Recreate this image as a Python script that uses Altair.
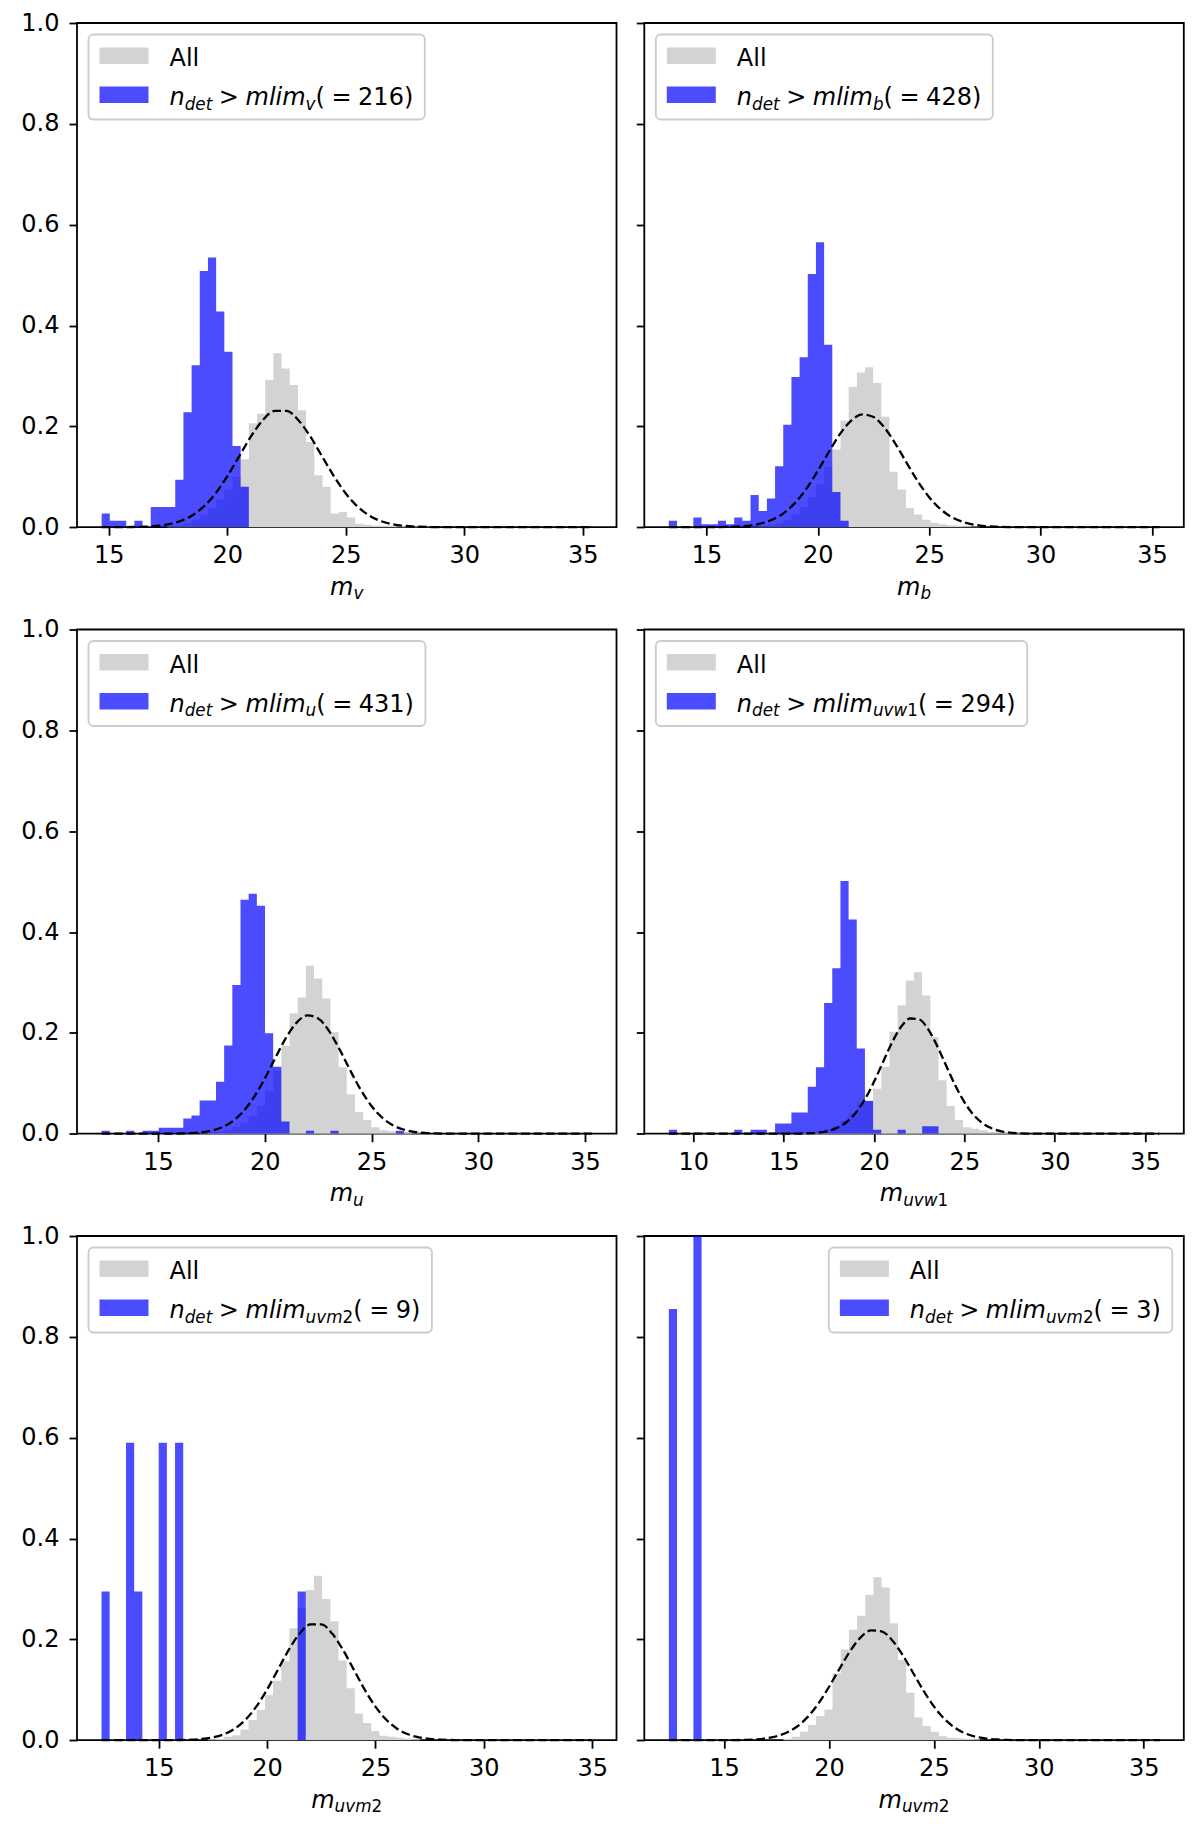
import altair as alt
import pandas as pd

# Density histograms: 60 equal bins per panel starting at
# bin_start with width bin_width. "All" lists start at bin index gray_first.
bands = ["v", "b", "u", "uvw1", "uvm2", "uvm2"]
n_sel = ["216", "428", "431", "294", "9", "3"]
bin_start = [14.70, 13.31, 12.35, 8.65, 12.36, 12.37]
bin_width = [0.345, 0.367, 0.383, 0.452, 0.377, 0.390]
x_lo = [13.66, 12.21, 11.20, 7.29, 11.23, 11.20]
x_hi = [36.42, 36.43, 36.48, 37.14, 36.12, 36.91]
x_ticks = [
    [15, 20, 25, 30, 35],
    [15, 20, 25, 30, 35],
    [15, 20, 25, 30, 35],
    [10, 15, 20, 25, 30, 35],
    [15, 20, 25, 30, 35],
    [15, 20, 25, 30, 35],
]

blue_v = [0.027, 0.013, 0.013, 0.0, 0.013, 0.0, 0.040, 0.040, 0.040, 0.094,
          0.228, 0.321, 0.508, 0.535, 0.428, 0.348, 0.161, 0.080]
blue_b = [0.013, 0.0, 0.0, 0.019, 0.006, 0.006, 0.013, 0.006, 0.019, 0.013,
          0.064, 0.032, 0.057, 0.121, 0.203, 0.298, 0.337, 0.502, 0.565, 0.362,
          0.070, 0.013]
blue_u = [0.006, 0.0, 0.0, 0.006, 0.0, 0.006, 0.006, 0.012, 0.012, 0.012,
          0.030, 0.036, 0.066, 0.066, 0.103, 0.175, 0.295, 0.464, 0.476, 0.452,
          0.199, 0.133, 0.024, 0.0, 0.0, 0.006, 0.0, 0.0, 0.006, 0.0,
          0.0, 0.0, 0.0, 0.0, 0.0, 0.0, 0.006]
blue_uvw1 = [0.008, 0.0, 0.0, 0.0, 0.0, 0.0, 0.0, 0.0, 0.008, 0.0,
             0.008, 0.008, 0.0, 0.020, 0.020, 0.042, 0.042, 0.093, 0.132, 0.259,
             0.328, 0.501, 0.425, 0.169, 0.065, 0.008, 0.0, 0.0, 0.008, 0.0,
             0.0, 0.015, 0.015]
blue_uvm2 = [0.295, 0.0, 0.0, 0.590, 0.295, 0.0, 0.0, 0.590, 0.0, 0.590,
             0.0, 0.0, 0.0, 0.0, 0.0, 0.0, 0.0, 0.0, 0.0, 0.0,
             0.0, 0.0, 0.0, 0.0, 0.295]
blue_uvm2_b = [0.855, 0.0, 0.0, 1.71]

gray_first = [8, 10, 12, 16, 13, 14]
gray_v = [0.002, 0.004, 0.008, 0.015, 0.025, 0.038, 0.055, 0.075, 0.100, 0.135,
          0.206, 0.225, 0.292, 0.345, 0.315, 0.282, 0.232, 0.169, 0.103, 0.080,
          0.027, 0.030, 0.019, 0.007, 0.005, 0.003, 0.003, 0.003, 0.002, 0.002,
          0.001, 0.001]
gray_b = [0.001, 0.002, 0.004, 0.008, 0.015, 0.025, 0.040, 0.060, 0.085, 0.120,
          0.154, 0.211, 0.278, 0.307, 0.317, 0.286, 0.219, 0.110, 0.075, 0.038,
          0.025, 0.015, 0.009, 0.006, 0.004, 0.003, 0.002, 0.001]
gray_u = [0.001, 0.002, 0.004, 0.007, 0.013, 0.022, 0.035, 0.055, 0.085, 0.125,
          0.174, 0.239, 0.270, 0.333, 0.308, 0.268, 0.201, 0.132, 0.078, 0.043,
          0.027, 0.013, 0.007, 0.005, 0.003, 0.002, 0.001]
gray_uvw1 = [0.002, 0.003, 0.005, 0.009, 0.015, 0.025, 0.040, 0.060, 0.066, 0.089,
             0.133, 0.202, 0.255, 0.304, 0.320, 0.274, 0.192, 0.106, 0.055, 0.027,
             0.013, 0.010, 0.007, 0.004, 0.003, 0.002, 0.001]
gray_uvm2 = [0.002, 0.003, 0.007, 0.010, 0.021, 0.040, 0.060, 0.089, 0.118, 0.157,
             0.222, 0.262, 0.298, 0.326, 0.280, 0.236, 0.158, 0.103, 0.053, 0.034,
             0.018, 0.009, 0.007, 0.005, 0.003, 0.002]
gray_uvm2_b = [0.003, 0.007, 0.017, 0.030, 0.048, 0.061, 0.133, 0.180, 0.219, 0.247,
               0.288, 0.323, 0.303, 0.232, 0.159, 0.094, 0.045, 0.028, 0.017, 0.008,
               0.005, 0.004, 0.003, 0.002]

# dashed normal curves, sampled on curve_x
curve_x = [15.0, 15.5, 16.0, 16.5, 17.0, 17.5, 18.0, 18.5, 19.0, 19.5,
           20.0, 20.5, 21.0, 21.5, 22.0, 22.5, 23.0, 23.5, 24.0, 24.5,
           25.0, 25.5, 26.0, 26.5, 27.0, 27.5, 28.0, 28.5, 29.0, 29.5, 30.0]
curve_v = [0.0000, 0.0001, 0.0004, 0.0010, 0.0025, 0.0056, 0.0118, 0.0229, 0.0407, 0.0668,
           0.1010, 0.1405, 0.1800, 0.2123, 0.2306, 0.2306, 0.2123, 0.1800, 0.1405, 0.1010,
           0.0668, 0.0407, 0.0229, 0.0118, 0.0056, 0.0025, 0.0010, 0.0004, 0.0001, 0.0, 0.0]
curve_b = [0.0001, 0.0002, 0.0006, 0.0016, 0.0037, 0.0079, 0.0158, 0.0290, 0.0492, 0.0771,
           0.1117, 0.1496, 0.1851, 0.2116, 0.2236, 0.2184, 0.1971, 0.1644, 0.1267, 0.0903,
           0.0594, 0.0362, 0.0203, 0.0106, 0.0051, 0.0022, 0.0009, 0.0003, 0.0001, 0.0, 0.0]
curve_u = [0.0000, 0.0001, 0.0004, 0.0010, 0.0026, 0.0060, 0.0128, 0.0250, 0.0446, 0.0730,
           0.1096, 0.1509, 0.1906, 0.2208, 0.2346, 0.2286, 0.2043, 0.1674, 0.1258, 0.0868,
           0.0549, 0.0318, 0.0169, 0.0083, 0.0037, 0.0015, 0.0006, 0.0002, 0.0001, 0.0, 0.0]
curve_uvw1 = [0.0000, 0.0001, 0.0004, 0.0010, 0.0026, 0.0059, 0.0123, 0.0237, 0.0420, 0.0685,
              0.1029, 0.1423, 0.1811, 0.2120, 0.2285, 0.2266, 0.2068, 0.1737, 0.1343, 0.0955,
              0.0626, 0.0377, 0.0209, 0.0107, 0.0050, 0.0022, 0.0009, 0.0003, 0.0001, 0.0, 0.0]
curve_uvm2 = [0.0000, 0.0001, 0.0004, 0.0010, 0.0025, 0.0056, 0.0117, 0.0228, 0.0405, 0.0665,
              0.1005, 0.1399, 0.1792, 0.2114, 0.2296, 0.2296, 0.2114, 0.1792, 0.1399, 0.1005,
              0.0665, 0.0405, 0.0228, 0.0117, 0.0056, 0.0025, 0.0010, 0.0004, 0.0001, 0.0, 0.0]
curve_uvm2_b = [0.0001, 0.0002, 0.0007, 0.0016, 0.0037, 0.0078, 0.0153, 0.0277, 0.0467, 0.0729,
                0.1055, 0.1416, 0.1762, 0.2034, 0.2177, 0.2160, 0.1988, 0.1697, 0.1343, 0.0986,
                0.0671, 0.0423, 0.0248, 0.0134, 0.0068, 0.0032, 0.0014, 0.0005, 0.0002, 0.0001, 0.0]

blues = [blue_v, blue_b, blue_u, blue_uvw1, blue_uvm2, blue_uvm2_b]
grays = [gray_v, gray_b, gray_u, gray_uvw1, gray_uvm2, gray_uvm2_b]
curves = [curve_v, curve_b, curve_u, curve_uvw1, curve_uvm2, curve_uvm2_b]

FONT = "DejaVu Sans"
FS = 24.0
SUB = 0.7 * FS
SUB_DY = 4.5
W, H = 539.5, 504.2
GRAY = "#d3d3d3"
ONE = pd.DataFrame({"o": [0]})

# DejaVu Sans advance widths (units per em = 2048)
ADV_IT = {"n": 1298, "d": 1300, "e": 1260, "t": 803, "m": 1995, "l": 569,
          "i": 569, "v": 1212, "b": 1300, "u": 1298, "w": 1675}
ADV_RM = {">": 1716, "=": 1716, "(": 799, ")": 799, " ": 651, "A": 1401, "l": 569}
GAP = 0.28 * 1995 / 2048 * FS   # space around relation symbols


def seg_w(text, italic, size):
    table = ADV_IT if italic else ADV_RM
    return sum(table.get(c, 1303) for c in text) * size / 2048


def txt(text, x, y, size, italic):
    return alt.Chart(ONE).mark_text(
        font=FONT, fontSize=size, fontStyle="italic" if italic else "normal",
        align="left", baseline="alphabetic", color="black"
    ).encode(x=alt.value(x), y=alt.value(y), text=alt.value(text))


def math_parts(i):
    band = bands[i]
    letters = band.rstrip("0123456789")
    digits = band[len(letters):]
    parts = [("n", True, False), ("det", True, True), None, (">", False, False), None,
             ("mlim", True, False), (letters, True, True)]
    if digits:
        parts.append((digits, False, True))
    parts += [("(", False, False), None, ("=", False, False), None,
              (n_sel[i], False, False), (")", False, False)]
    return parts


def parts_width(parts):
    w = 0.0
    for p in parts:
        if p is None:
            w += GAP
        else:
            w += seg_w(p[0], p[1], SUB if p[2] else FS)
    return w


def draw_parts(parts, x, y):
    layers = []
    for p in parts:
        if p is None:
            x += GAP
            continue
        size = SUB if p[2] else FS
        layers.append(txt(p[0], x, y + (SUB_DY if p[2] else 0), size, p[1]))
        x += seg_w(p[0], p[1], size)
    return layers


def legend(i):
    parts = math_parts(i)
    bw = 81 + parts_width(parts) + 11.5
    bx = W - 11.5 - bw if i == 5 else 11.5
    box = alt.Chart(ONE).mark_rect(
        fill="white", fillOpacity=0.8, stroke="#cccccc", strokeWidth=1.8, cornerRadius=5
    ).encode(x=alt.value(bx), x2=alt.value(bx + bw), y=alt.value(11.5), y2=alt.value(96.5))
    sw_gray = alt.Chart(ONE).mark_rect(color=GRAY).encode(
        x=alt.value(bx + 11), x2=alt.value(bx + 60), y=alt.value(24.6), y2=alt.value(41.1))
    sw_blue = alt.Chart(ONE).mark_rect(color="blue", opacity=0.7).encode(
        x=alt.value(bx + 11), x2=alt.value(bx + 60), y=alt.value(63.6), y2=alt.value(80.1))
    layers = [box, sw_gray, sw_blue, txt("All", bx + 81, 43.2, FS, False)]
    layers += draw_parts(parts, bx + 81, 82.2)
    return layers


def x_title(i):
    band = bands[i]
    letters = band.rstrip("0123456789")
    digits = band[len(letters):]
    parts = [("m", True, False), (letters, True, True)]
    if digits:
        parts.append((digits, False, True))
    x0 = W / 2 - parts_width(parts) / 2
    return draw_parts(parts, x0, H + 67.5)


def panel(i):
    s, w = bin_start[i], bin_width[i]
    g0 = gray_first[i]
    gray_df = pd.DataFrame({
        "lo": [s + (g0 + k) * w for k in range(len(grays[i]) + 1)],
        "val": grays[i] + [0.0],
    })
    blue_df = pd.DataFrame({
        "lo": [s + k * w for k in range(len(blues[i]) + 1)],
        "val": blues[i] + [0.0],
    })
    top = s + 60 * w
    curve_df = pd.DataFrame({
        "lo": [s] + curve_x + [top],
        "val": [0.0] + curves[i] + [0.0],
    })

    xs = alt.Scale(domain=[x_lo[i], x_hi[i]], nice=False, zero=False)
    ys = alt.Scale(domain=[0, 1], nice=False)
    xa = alt.Axis(values=x_ticks[i], format="d", title=None, labelPadding=8.5)
    ya = alt.Axis(values=[0, 0.2, 0.4, 0.6, 0.8, 1.0], format=".1f", title=None,
                  labels=(i % 2 == 0), labelPadding=10)
    X = alt.X("lo:Q", scale=xs, axis=xa)
    Y = alt.Y("val:Q", scale=ys, axis=ya)

    gray = alt.Chart(gray_df).mark_area(
        color=GRAY, interpolate="step-after"
    ).encode(x=X, y=Y)
    blue = alt.Chart(blue_df).mark_area(
        color="blue", opacity=0.7, interpolate="step-after", clip=True
    ).encode(x=X, y=Y)
    curve = alt.Chart(curve_df).mark_line(
        color="black", strokeWidth=2.3, strokeDash=[8.7, 3.8], interpolate="monotone"
    ).encode(x=X, y=Y)

    layers = [gray, blue, curve] + legend(i) + x_title(i)
    return alt.layer(*layers).properties(width=W, height=H)


chart = alt.concat(
    *[panel(i) for i in range(6)], columns=2,
    spacing={"row": 101.5, "column": 27.3}, bounds="flush"
).properties(
    padding={"left": 11, "top": 2, "right": 6, "bottom": 6}
).configure_axis(
    labelFont=FONT, labelFontSize=FS, labelColor="black",
    tickColor="black", tickWidth=1.8, tickSize=8, domain=False, grid=False
).configure_view(
    stroke="black", strokeWidth=1.8
)

chart.save("out.html", embed_options={"renderer": "svg", "actions": False})
